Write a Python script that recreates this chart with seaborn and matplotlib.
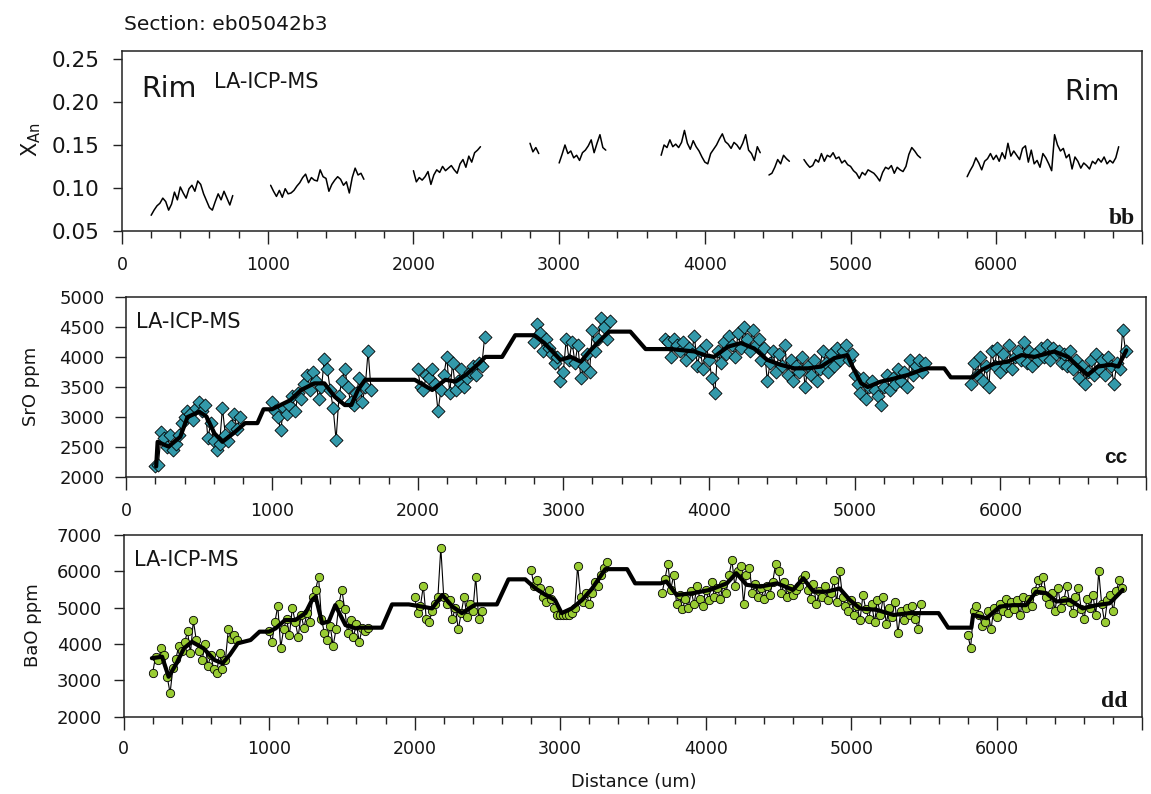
"""
Profils le long de la section eb05042b3 : X_An, SrO et BaO (LA-ICP-MS).
Trois panneaux empilés, mêmes distances en abscisse.
"""

import matplotlib
matplotlib.use("Agg")
import matplotlib.pyplot as plt
from matplotlib.ticker import MultipleLocator, FixedLocator
import pandas as pd
import seaborn as sns

STEP = 20  # pas d'échantillonnage le long du profil (um)

# --- X_An (panneau bb) : début de chaque tronçon + valeurs lues ---
XAN_STARTS = [200, 1020, 2000, 2800, 3000, 3700, 4440, 4680, 5800]
XAN_VALUES = [
    [0.068, 0.074, 0.079, 0.082, 0.088, 0.084, 0.074, 0.081, 0.095, 0.086,
     0.101, 0.094, 0.088, 0.099, 0.103, 0.096, 0.108, 0.104, 0.093, 0.085,
     0.077, 0.074, 0.084, 0.093, 0.086, 0.096, 0.088, 0.080, 0.091],
    [0.103, 0.096, 0.090, 0.097, 0.089, 0.099, 0.093, 0.094, 0.097, 0.102,
     0.106, 0.112, 0.116, 0.106, 0.112, 0.109, 0.108, 0.121, 0.113, 0.111,
     0.096, 0.104, 0.109, 0.113, 0.110, 0.103, 0.107, 0.094, 0.112, 0.123,
     0.115, 0.117, 0.110],
    [0.120, 0.107, 0.112, 0.109, 0.113, 0.119, 0.104, 0.115, 0.121, 0.118,
     0.125, 0.120, 0.123, 0.126, 0.121, 0.117, 0.128, 0.133, 0.124, 0.137,
     0.130, 0.141, 0.144, 0.148],
    [0.152, 0.142, 0.147, 0.140],
    [0.129, 0.139, 0.150, 0.140, 0.143, 0.135, 0.138, 0.132, 0.141, 0.144,
     0.149, 0.156, 0.141, 0.152, 0.162, 0.147, 0.144],
    [0.138, 0.150, 0.147, 0.156, 0.148, 0.151, 0.147, 0.153, 0.167, 0.152,
     0.145, 0.155, 0.148, 0.143, 0.136, 0.130, 0.128, 0.140, 0.145, 0.150,
     0.157, 0.163, 0.154, 0.151, 0.146, 0.153, 0.150, 0.145, 0.152, 0.162,
     0.144, 0.140, 0.132, 0.148, 0.141],
    [0.115, 0.117, 0.124, 0.133, 0.128, 0.138, 0.134, 0.131],
    [0.133, 0.128, 0.124, 0.126, 0.133, 0.130, 0.140, 0.131, 0.138, 0.136,
     0.141, 0.134, 0.136, 0.129, 0.132, 0.127, 0.125, 0.120, 0.117, 0.111,
     0.118, 0.115, 0.121, 0.119, 0.117, 0.113, 0.108, 0.118, 0.124, 0.122,
     0.126, 0.117, 0.124, 0.121, 0.119, 0.125, 0.139, 0.147, 0.143, 0.138,
     0.135],
    [0.113, 0.120, 0.126, 0.135, 0.129, 0.121, 0.131, 0.134, 0.140, 0.133,
     0.138, 0.131, 0.141, 0.134, 0.152, 0.137, 0.143, 0.138, 0.133, 0.146,
     0.149, 0.130, 0.144, 0.128, 0.132, 0.124, 0.140, 0.135, 0.128, 0.120,
     0.162, 0.150, 0.143, 0.146, 0.135, 0.139, 0.122, 0.136, 0.131, 0.123,
     0.129, 0.126, 0.122, 0.131, 0.128, 0.134, 0.130, 0.136, 0.128, 0.132,
     0.129, 0.135, 0.148],
]

# --- SrO ppm (panneau cc) ---
ICP_STARTS = [200, 1000, 2000, 2800, 3700, 5800]
SRO_VALUES = [
    [2180, 2200, 2750, 2650, 2500, 2700, 2450, 2550, 2700, 2900,
     3000, 3100, 3050, 2950, 3150, 3250, 3100, 3200, 2650, 2900,
     2600, 2450, 2550, 3150, 2700, 2600, 2850, 3050, 2800, 3000],
    [3250, 3100, 3000, 2780, 3150, 3050, 3200, 3350, 3100, 3400,
     3300, 3550, 3700, 3450, 3750, 3600, 3300, 3500, 3970, 3800,
     3450, 3150, 2620, 3350, 3600, 3800, 3500, 3250, 3200, 3400,
     3650, 3250, 3500, 4100, 3450],
    [3800, 3500, 3450, 3700, 3650, 3800, 3550, 3100, 3450, 3700,
     4000, 3400, 3900, 3450, 3600, 3800, 3500, 3650, 3750, 3850,
     3700, 3900, 3850, 4330],
    [4250, 4550, 4400, 4100, 4300, 4150, 4050, 3900, 4000, 3600,
     3750, 4300, 3950, 4250, 3900, 4200, 3650, 3850, 4050, 3750,
     4450, 4100, 4300, 4650, 4500, 4300, 4600],
    [4300, 4250, 4000, 4300, 4200, 4100, 4250, 3950, 4150, 4050,
     4350, 3850, 4100, 3800, 4200, 3950, 3650, 3400, 4100, 3900,
     4250, 4050, 4350, 4200, 4000, 4400, 4150, 4500, 4300, 4100,
     4450, 4200, 4300, 3950, 4150, 3600, 3900, 4100, 3750, 4050,
     3850, 4200, 3700, 3950, 3600, 3850, 3750, 4000, 3500, 3850,
     3700, 3950, 3600, 3800, 4100, 3900, 3750, 4050, 3850, 4150,
     3950, 4100, 4200, 3950, 4050, 3700, 3550, 3400, 3650, 3300,
     3500, 3600, 3450, 3350, 3200, 3500, 3700, 3450, 3650, 3550,
     3800, 3600, 3750, 3500, 3950, 3700, 3850, 3950, 3750, 3900],
    [3550, 3900, 3700, 4000, 3600, 3850, 3500, 4100, 3850, 4150,
     3750, 4050, 3850, 4200, 3800, 4000, 4100, 3950, 4250, 3900,
     4100, 3850, 4050, 3950, 4150, 4000, 4200, 3950, 4150, 4050,
     4100, 3900, 4050, 3850, 4100, 3800, 3950, 3650, 3850, 3550,
     3750, 3950, 3700, 4050, 3800, 3950, 3700, 4000, 3850, 3550,
     3900, 3800, 4450, 4100],
]
SRO_TREND_X = [205, 215, 290, 370, 420, 500, 550, 605, 660, 735, 815, 900,
               942, 1000, 1125, 1200, 1290, 1360, 1430, 1500, 1545, 1590,
               1640, 1980, 2100, 2190, 2260, 2330, 2420, 2465, 2580, 2670,
               2800, 2870, 2980, 3050, 3120, 3190, 3280, 3315, 3460, 3565,
               3740, 3900, 3970, 4035, 4130, 4220, 4310, 4400, 4490, 4585,
               4680, 4770, 4860, 4950, 4985, 5045, 5090, 5180, 5270, 5365,
               5455, 5500, 5615, 5660, 5810, 5870, 5960, 6050, 6145, 6235,
               6370, 6465, 6535, 6600, 6670, 6760, 6810, 6865]
SRO_TREND_Y = [2180, 2590, 2510, 2670, 3000, 3090, 3010, 2730, 2590, 2730,
               2900, 2900, 3130, 3130, 3280, 3450, 3560, 3560, 3340, 3200,
               3200, 3450, 3620, 3620, 3450, 3620, 3590, 3700, 3890, 4000,
               4000, 4360, 4360, 4230, 3950, 4000, 3920, 4120, 4340, 4420,
               4420, 4130, 4130, 4090, 4030, 4000, 4170, 4230, 4140, 3950,
               3870, 3810, 3810, 3840, 3980, 4030, 3840, 3560, 3500, 3590,
               3640, 3700, 3780, 3810, 3810, 3660, 3660, 3780, 3890, 3920,
               4030, 4000, 4090, 4000, 3840, 3700, 3840, 3870, 3840, 4110]

# --- BaO ppm (panneau dd) ---
BAO_VALUES = [
    [3200, 3650, 3550, 3900, 3700, 3100, 2650, 3350, 3600, 3950,
     3800, 4050, 4350, 3750, 4650, 4100, 3800, 3550, 4000, 3400,
     3700, 3300, 3200, 3750, 3300, 3550, 4400, 4150, 4250, 4100],
    [4350, 4050, 4600, 5050, 3900, 4400, 4700, 4250, 5000, 4600,
     4200, 4800, 4450, 4850, 4600, 5300, 5500, 5850, 4700, 4300,
     4100, 4500, 3950, 4400, 5100, 5500, 4950, 4300, 4650, 4200,
     4550, 4050, 4450, 4350, 4450],
    [5300, 4850, 5050, 5600, 4700, 4600, 4900, 5100, 5300, 6650,
     5300, 5100, 5200, 4700, 5000, 4400, 4850, 5300, 4750, 5100,
     4900, 5850, 4700, 4900],
    [6050, 5600, 5750, 5550, 5300, 5150, 5500, 5250, 5000, 4800,
     4800, 4800, 4800, 4800, 4850, 5000, 6150, 5300, 5150, 5400,
     5100, 5400, 5700, 5600, 5900, 6100, 6250],
    [5400, 5800, 6200, 5500, 5900, 5100, 5350, 4950, 5250, 5000,
     5450, 5100, 5600, 5250, 5050, 5500, 5200, 5700, 5300, 5550,
     5250, 5650, 5400, 5900, 6300, 5600, 6000, 6150, 5100, 5900,
     6100, 5400, 5650, 5300, 5550, 5250, 5600, 5350, 5700, 6200,
     6000, 5400, 5700, 5300, 5550, 5350, 5500, 5600, 5800, 5900,
     5500, 5250, 5650, 5100, 5450, 5300, 5600, 5200, 5400, 5750,
     5150, 6000, 5300, 5050, 4900, 5200, 4800, 5050, 4650, 5350,
     4950, 4700, 5100, 4600, 5200, 4800, 5300, 4550, 5000, 4750,
     5150, 4300, 4900, 4650, 5000, 4800, 5050, 4700, 4400, 5100],
    [4250, 3900, 4900, 5050, 4800, 4500, 4600, 4900, 4400, 5000,
     4750, 5100, 4900, 5250, 4850, 5150, 4950, 5200, 4800, 5300,
     5000, 5250, 5050, 5450, 5750, 5500, 5850, 5300, 5100, 5400,
     4900, 5550, 5000, 5200, 5600, 5150, 4850, 5300, 5550, 4950,
     4700, 5250, 5000, 5350, 4800, 6000, 5100, 4600, 5200, 5350,
     4900, 5450, 5750, 5550],
]
BAO_TREND_X = [195, 265, 310, 365, 415, 470, 550, 625, 680, 730, 785, 873,
               935, 1000, 1045, 1110, 1180, 1250, 1295, 1320, 1365, 1410,
               1455, 1525, 1595, 1620, 1775, 1845, 1960, 2050, 2120, 2190,
               2260, 2325, 2395, 2420, 2565, 2645, 2760, 2830, 2900, 2965,
               3010, 3080, 3150, 3220, 3310, 3460, 3515, 3690, 3730, 3800,
               3915, 4030, 4145, 4210, 4280, 4375, 4490, 4600, 4670, 4740,
               4830, 4920, 4990, 5060, 5175, 5290, 5400, 5600, 5665, 5825,
               5837, 5930, 6020, 6110, 6200, 6270, 6340, 6410, 6500, 6590,
               6685, 6775, 6865]
BAO_TREND_Y = [3610, 3650, 3100, 3470, 3880, 4060, 3880, 3560, 3470, 3700,
               4020, 4110, 4340, 4340, 4430, 4660, 4660, 4850, 5210, 5300,
               4570, 4620, 5070, 4520, 4430, 4450, 4450, 5090, 5090, 5030,
               4980, 5350, 5030, 4850, 5030, 5090, 5090, 5780, 5780, 5530,
               5350, 5210, 4850, 4980, 5210, 5530, 6060, 6060, 5670, 5670,
               5720, 5350, 5400, 5490, 5670, 5950, 5630, 5580, 5670, 5490,
               5810, 5440, 5440, 5530, 5210, 4980, 4940, 4800, 4850, 4850,
               4450, 4450, 4800, 4710, 5030, 5070, 5070, 5440, 5400, 5170,
               5210, 4980, 5070, 5120, 5490]

TEAL = "#3399AA"
GREEN = "#99CC33"
FRAME = "#222222"
INK = "#151515"
W, H = 1151, 794


def to_frame(starts, segments):
    rows = []
    for k, (x0, vals) in enumerate(zip(starts, segments)):
        for i, v in enumerate(vals):
            rows.append((x0 + STEP * i, v, k))
    return pd.DataFrame(rows, columns=["distance", "value", "seg"])


def px_axes(fig, left, top, right, bottom):
    # position d'un panneau donnée en pixels de l'image
    return fig.add_axes([left / W, 1 - bottom / H, (right - left) / W, (bottom - top) / H])


def style_axes(ax, ylim, yticks, yfmt, ysize, ylen, ypad, xpad):
    ax.set_xlim(0, 7000)
    ax.set_ylim(*ylim)
    ax.xaxis.set_major_locator(FixedLocator(range(0, 7001, 1000)))
    ax.set_xticklabels([str(v) for v in range(0, 7000, 1000)] + [""])
    ax.xaxis.set_minor_locator(MultipleLocator(200))
    ax.set_yticks(yticks)
    ax.set_yticklabels([yfmt.format(v) for v in yticks])
    ax.tick_params(axis="x", which="major", length=9, width=1, pad=xpad,
                   labelsize=12.5, colors=FRAME, labelcolor=INK)
    ax.tick_params(axis="x", which="minor", length=5, width=1, colors=FRAME)
    ax.tick_params(axis="y", length=ylen, width=1, pad=ypad,
                   labelsize=ysize, colors=FRAME, labelcolor=INK)
    for sp in ax.spines.values():
        sp.set_visible(True)
        sp.set_color(FRAME)
        sp.set_linewidth(1.1)
    ax.set_xlabel("")
    ax.set_ylabel("")


sns.set_style("ticks")
plt.rcParams["font.family"] = ["DejaVu Sans"]
fig = plt.figure(figsize=(W / 100, H / 100), dpi=100)

# a) X_An
xan = to_frame(XAN_STARTS, XAN_VALUES)
ax1 = px_axes(fig, 122, 50.7, 1142, 230.7)
sns.lineplot(data=xan, x="distance", y="value", units="seg", estimator=None,
             color="black", lw=1.1, ax=ax1, legend=False)
style_axes(ax1, (0.05, 0.26), [0.05, 0.10, 0.15, 0.20, 0.25], "{:.2f}",
           15.5, 6.5, 9.5, 9)

# b) SrO
sro = to_frame(ICP_STARTS, SRO_VALUES)
ax2 = px_axes(fig, 126.3, 296.7, 1146, 477.3)
sns.lineplot(data=sro, x="distance", y="value", units="seg", estimator=None,
             color="black", lw=0.8, ax=ax2, legend=False)
sns.scatterplot(data=sro, x="distance", y="value", marker="D", s=44, color=TEAL,
                edgecolor="black", linewidth=0.6, ax=ax2, zorder=3, legend=False)
sns.lineplot(x=SRO_TREND_X, y=SRO_TREND_Y, color="black", lw=3, ax=ax2,
             sort=False, estimator=None, zorder=4)
style_axes(ax2, (2000, 5000), list(range(2000, 5001, 500)), "{:d}",
           13, 8, 7.5, 8.5)

# c) BaO
bao = to_frame(ICP_STARTS, BAO_VALUES)
ax3 = px_axes(fig, 123.5, 535, 1142.4, 716.7)
sns.lineplot(data=bao, x="distance", y="value", units="seg", estimator=None,
             color="black", lw=0.8, ax=ax3, legend=False)
sns.scatterplot(data=bao, x="distance", y="value", marker="o", s=36, color=GREEN,
                edgecolor="black", linewidth=0.6, ax=ax3, zorder=3, legend=False)
sns.lineplot(x=BAO_TREND_X, y=BAO_TREND_Y, color="black", lw=3, ax=ax3,
             sort=False, estimator=None, zorder=4)
style_axes(ax3, (2000, 7000), list(range(2000, 7001, 1000)), "{:d}",
           13, 7.5, 8, 8)

# textes placés en pixels
def put(px, py, s, **kw):
    fig.text(px / W, 1 - py / H, s, color=INK, **kw)


put(124.4, 30, "Section: eb05042b3", fontsize=14.5, va="baseline")
put(141.6, 96.7, "Rim", fontsize=20.5, va="baseline")
put(1119.5, 100, "Rim", fontsize=20.5, va="baseline", ha="right")
put(214.3, 88.3, "LA-ICP-MS", fontsize=15, va="baseline")
put(135.9, 328.3, "LA-ICP-MS", fontsize=15, va="baseline")
put(134, 566, "LA-ICP-MS", fontsize=15, va="baseline")
put(1135, 224, "bb", fontsize=17, va="baseline", ha="right",
    family="Liberation Serif", weight="bold")
put(1127, 463, "cc", fontsize=15, va="baseline", ha="right",
    family="Liberation Sans", weight="bold")
put(1128, 707, "dd", fontsize=17, va="baseline", ha="right",
    family="Liberation Serif", weight="bold")
put(31, 140, r"X$_{\mathrm{An}}$", fontsize=15, rotation=90, ha="center", va="center")
put(31, 386, "SrO ppm", fontsize=13, rotation=90, ha="center", va="center")
put(33, 625, "BaO ppm", fontsize=13, rotation=90, ha="center", va="center")
put(634, 787, "Distance (um)", fontsize=12.8, ha="center", va="baseline")

fig.savefig("out.png", dpi=100)
